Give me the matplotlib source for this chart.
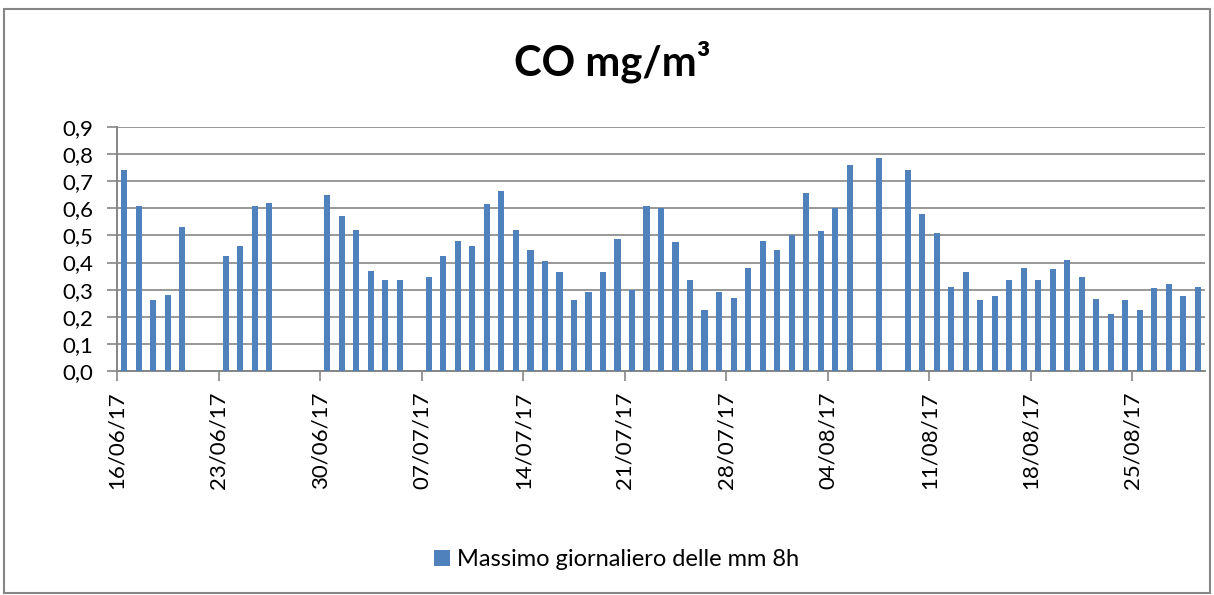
import numpy as np
import matplotlib
matplotlib.use('Agg')
import matplotlib.pyplot as plt
from matplotlib.patches import Rectangle

# daily values, 16/06/17 .. 29/08/17 (nan = no data)
values = [0.74, 0.61, 0.26, 0.28, 0.53, np.nan, np.nan,
          0.425, 0.46, 0.61, 0.62, np.nan, np.nan, np.nan,
          0.65, 0.57, 0.52, 0.37, 0.335, 0.335, np.nan,
          0.345, 0.425, 0.48, 0.46, 0.615, 0.665, 0.52,
          0.445, 0.405, 0.365, 0.26, 0.29, 0.365, 0.485,
          0.30, 0.61, 0.60, 0.475, 0.335, 0.225, 0.29,
          0.27, 0.38, 0.48, 0.445, 0.50, 0.655, 0.515,
          0.60, 0.76, np.nan, 0.785, np.nan, 0.74, 0.58,
          0.51, 0.31, 0.365, 0.26, 0.275, 0.335, 0.38,
          0.335, 0.375, 0.41, 0.345, 0.265, 0.21, 0.26,
          0.225, 0.305, 0.32, 0.275, 0.31]
week_labels = ['16/06/17', '23/06/17', '30/06/17', '07/07/17', '14/07/17', '21/07/17',
               '28/07/17', '04/08/17', '11/08/17', '18/08/17', '25/08/17']
y_ticks = [0.0, 0.1, 0.2, 0.3, 0.4, 0.5, 0.6, 0.7, 0.8, 0.9]
series_name = 'Massimo giornaliero delle mm 8h'

plt.rcParams['font.family'] = ['Lato', 'DejaVu Sans']
grid_color = '#868686'
bar_color = '#4F81BD'

fig = plt.figure(figsize=(12.14, 5.95), dpi=100)
ax = fig.add_axes([0.0964, 0.3765, 0.8962, 0.4101])

x = np.arange(len(values)) + 0.5
bars = ax.bar(x, values, width=0.42, color=bar_color, zorder=3, label=series_name)

ax.set_xlim(0, len(values))
ax.set_ylim(0, 0.9)
ax.set_yticks(y_ticks)
ax.set_yticklabels([f'{v:.1f}'.replace('.', ',') for v in y_ticks], fontsize=16)
ax.set_xticks(np.arange(0, len(values), 7))
ax.set_xticklabels(week_labels, rotation=90, fontsize=16)

ax.grid(axis='y', color=grid_color, linewidth=1.2, zorder=0)
for side in ['top', 'right']:
    ax.spines[side].set_visible(False)
for side in ['left', 'bottom']:
    ax.spines[side].set_color(grid_color)
    ax.spines[side].set_linewidth(1.4)
ax.tick_params(axis='both', color=grid_color, width=1.2, length=7)
ax.tick_params(axis='x', pad=8)
ax.tick_params(axis='y', pad=10)

fig.text(0.504, 0.897, 'CO mg/m³', ha='center', va='center',
         fontsize=30, fontweight='bold')

fig.legend(handles=[bars], labels=[series_name], loc='center',
           bbox_to_anchor=(0.508, 0.059), frameon=False, fontsize=17,
           handlelength=0.7, handleheight=0.7, handletextpad=0.3)

fig.patches.append(Rectangle((0.003, 0.003), 0.994, 0.982, transform=fig.transFigure,
                             fill=False, edgecolor=grid_color, linewidth=1.5))

fig.savefig('out.png', dpi=100)
